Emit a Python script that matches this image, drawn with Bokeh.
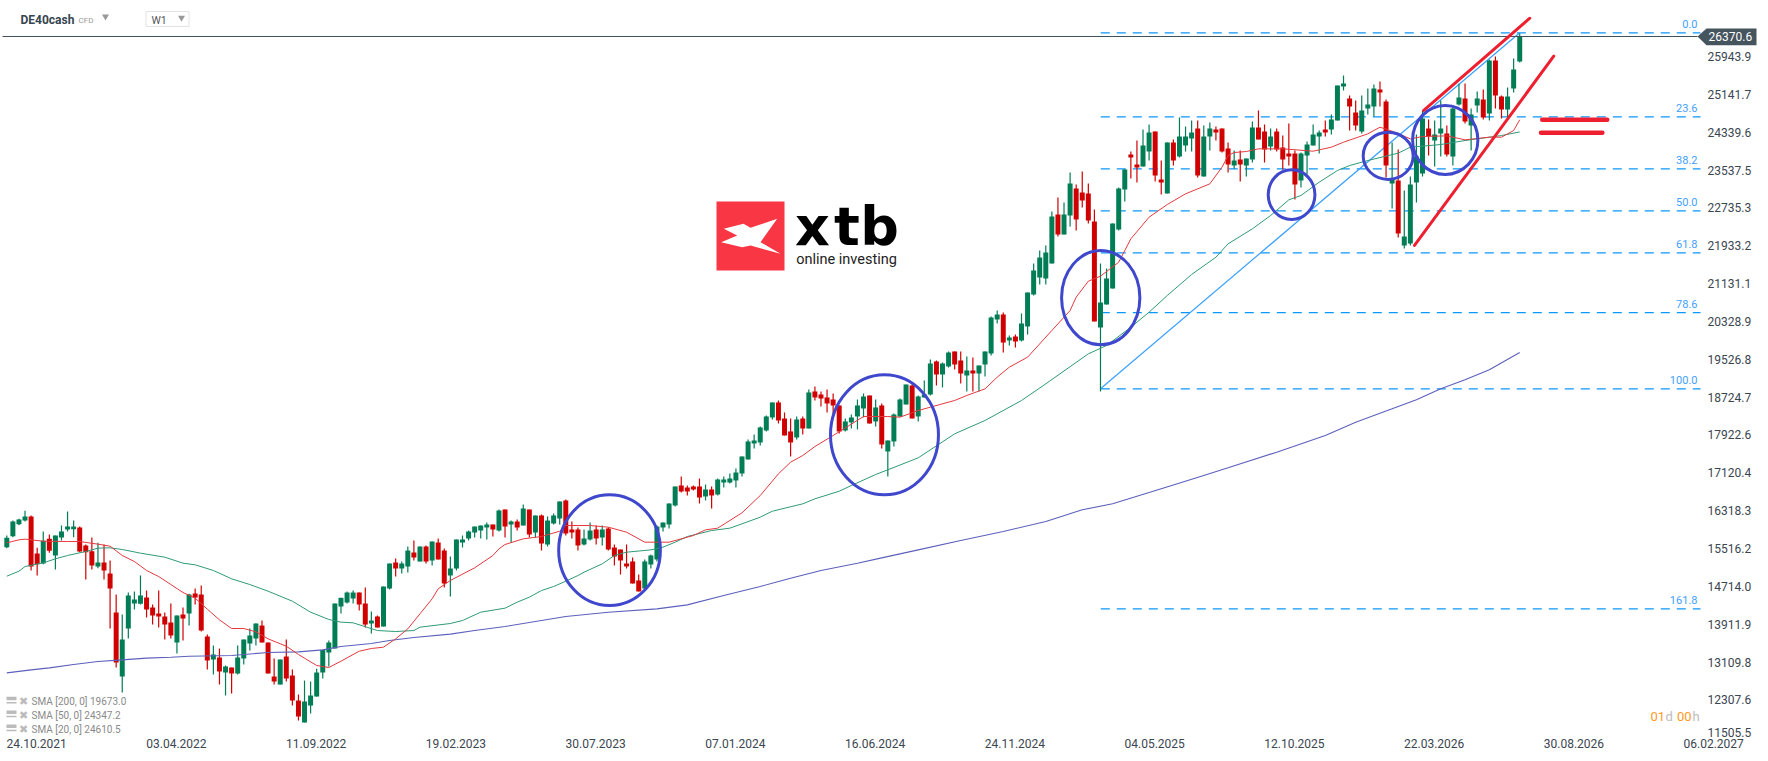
from bokeh.plotting import figure
from bokeh.embed import file_html
from bokeh.resources import INLINE
from bokeh.models import FixedTicker, Range1d
from bokeh.core.properties import value

symbol = "DE40cash"
opens = [15544,15777,16032,16110,16194,15410,15198,15721,15368,15749,
15919,15926,15961,15579,15459,15134,15219,14986,14159,12802,
13820,14350,14343,14477,14265,14138,14074,13947,13523,14117,
14138,14562,14541,13650,13163,13205,12887,12993,12866,13184,
13502,13608,13883,13523,12802,12632,13226,12823,12293,11827,
12187,12378,12887,13311,13396,14286,14371,14456,14583,14350,
13926,14074,13862,14668,15219,15092,15134,15431,15240,15558,
15261,15643,15474,14944,15092,15643,15728,15855,15897,15961,
16025,15897,16343,16025,16088,16003,16343,15855,16216,15601,
16046,16152,16534,15919,15919,15601,15707,15919,15749,15940,
15537,15495,15198,15241,14838,14668,15177,15283,15961,16025,
16428,16852,16809,16831,16831,16619,16767,16661,16915,16915,
16958,17106,17403,17742,17764,18018,18294,18612,18272,17997,
17870,18272,18060,18845,18781,18718,18675,18548,18018,18188,
18315,18484,18760,18209,18548,17573,17785,18315,18569,18972,
18315,18718,18781,19481,19205,19375,19693,19502,19184,19290,
19226,19417,19650,20371,20477,19926,20011,19926,20223,20901,
21261,21240,21558,22597,22173,22576,23148,23064,23042,22449,
20201,20689,21028,22279,23127,23869,23657,23615,23933,24357,
23339,23042,24124,23827,24060,24208,24420,23403,24251,24399,
24420,23996,23636,23763,23636,23763,24442,24357,24039,24357,
24018,23890,23890,23318,23848,24060,24251,24399,24399,24590,
25311,25056,24759,24357,24844,24887,25247,24993,23254,23318,
21940,21982,23275,23466,24420,24166,24314,24314,23827,24929,
25056,24484,24908,25035,24738,25862,25099,24823,25268,25840]
closes = [15742,16088,16131,16194,15134,15184,15679,15466,15792,15876,
15982,15982,15452,15438,15155,15219,15050,14668,13099,13587,
14519,14435,14519,14223,14095,14074,13904,13671,14095,14032,
14541,14477,13777,13141,13269,12908,13014,12866,13205,13587,
13671,13926,13523,12866,12696,13163,12760,12293,11954,12272,
12399,12887,13367,13523,14350,14470,14583,14583,14329,13904,
13989,13841,14710,15198,15092,15198,15473,15325,15558,15240,
15664,15283,14774,15092,15707,15707,15876,15982,16003,16025,
15919,16322,15982,16088,15961,16364,15813,16216,15622,16109,
16216,16513,15834,15855,15580,15728,15897,15728,15919,15495,
15346,15262,15135,14774,14605,15241,15368,15982,16067,16470,
16831,16725,16725,16767,16597,16767,16640,16979,16979,17000,
17127,17467,17785,17806,18082,18315,18612,18230,17912,17764,
18251,18060,18824,18718,18696,18590,18548,17997,18209,18294,
18548,18739,18166,18506,17721,17806,18357,18675,18993,18272,
18739,18781,19438,19205,19438,19671,19417,19226,19290,19226,
19396,19693,20413,20477,19883,19989,19905,20286,20943,21410,
21685,21791,22555,22173,22597,23254,22491,22894,22470,20329,
20731,21240,22406,23148,23551,23806,23594,24060,24336,23424,
23276,24124,23742,24251,24251,24336,23424,24251,24420,24336,
23933,23657,23742,23657,23784,24442,24187,23975,24251,23975,
23763,23827,23233,23890,24081,24293,24336,24336,24611,25332,
25374,24887,24484,24802,24929,25268,25184,23636,23339,22194,
22131,23233,23827,24632,24251,24293,24420,23869,24844,25078,
24569,24717,25056,24654,25862,25120,24823,25099,25671,26370.6]
highs = [15792,16110,16145,16315,16216,15530,15876,15813,15792,16004,
16300,16110,15982,15601,15749,15636,15601,15261,14541,14117,
14583,14604,14943,14625,14329,14625,14159,14350,14095,14265,
14555,14668,14731,13693,13459,13396,13035,12993,13459,13587,
13820,13926,13989,13523,13184,13163,13587,12950,12420,12717,
12696,12965,13367,13565,14350,14470,14604,14625,14583,14689,
14180,14095,14710,15198,15304,15240,15558,15686,15558,15579,
15664,15728,15516,15346,15707,15791,15897,15982,16003,16067,
16025,16343,16343,16109,16131,16449,16343,16216,16237,16195,
16258,16513,16555,16088,15961,15919,16067,16003,16003,15961,
15601,15495,15601,15325,14965,15283,15389,16003,16067,16470,
16831,17042,16852,16852,17000,16873,16831,17000,17042,17106,
17212,17467,17827,17933,18103,18336,18612,18654,18400,18272,
18315,18315,18887,18951,18845,18887,18802,18548,18272,18357,
18675,18802,18760,18675,18590,17806,18378,18696,18993,18993,
18760,19078,19523,19502,19459,19693,19693,19693,19587,19565,
19396,19693,20435,20562,20519,20032,20053,20498,20943,21558,
21834,21940,22661,22958,22852,23488,23233,23509,23254,22703,
21558,21452,22406,23170,23551,23933,24166,24399,24505,24357,
23742,24124,24187,24654,24463,24590,24590,24484,24548,24463,
24420,24124,23954,23954,23784,24569,24802,24505,24420,24420,
24272,24526,23954,23912,24145,24505,24378,24590,24717,25332,
25544,25120,25014,25120,25268,25353,25417,25035,24123,23975,
23106,23403,24293,24802,24611,24590,25014,24484,24908,25367,
25374,24844,25205,25247,25883,25947,25120,25290,25904,26434]
lows = [15523,15756,16011,16088,15050,14943,15184,15424,15071,15686,
15876,15756,15438,14859,15071,15099,14859,13820,12993,12463,
13608,14223,14329,14053,13904,13841,13587,13608,13290,13565,
13883,14329,13756,12950,12845,12632,12399,12442,12845,13057,
13353,13459,13523,12866,12632,12632,12696,12187,11869,11827,
12018,12378,12760,13014,13396,14138,14350,14350,14201,13841,
13714,13841,13862,14647,14922,14986,15007,15261,15240,15198,
15155,15283,14689,14498,15050,15537,15686,15749,15728,15707,
15770,15876,15749,15643,15897,16003,15749,15749,15474,15559,
16025,16025,15791,15728,15474,15580,15686,15601,15580,15474,
15156,14965,15092,14774,14605,14647,15092,15241,15876,15940,
16407,16703,16640,16746,16470,16534,16364,16640,16809,16894,
16809,17042,17403,17636,17700,17997,18251,18166,17912,17467,
17827,17933,18060,18654,18527,18400,18336,17954,17997,18060,
18039,18294,18166,18103,17636,17043,17679,18307,18569,18272,
18209,18718,18760,18972,18929,19353,19311,19014,18845,18845,
18845,19163,19608,20286,19671,19820,19777,19905,20053,20880,
21113,21113,21558,22131,22173,22343,22258,22746,22406,20329,
18845,20689,21028,22258,22873,23360,23276,23615,23742,23297,
23021,23042,23636,23806,23933,23933,23382,23403,23954,24166,
23912,23488,23565,23297,23403,23700,24187,23700,23954,23933,
23551,23636,22915,23170,23445,24060,23890,24251,24293,24590,
25226,24378,24378,24314,24717,24675,24887,23381,22724,22109,
21876,21940,22851,23403,23848,23615,23827,23827,23636,24908,
24526,23954,24759,24611,24590,24844,24632,24632,25184,25819]

sma20_i = [0,2,3,6,10,12,15,17,19,21,23,25,27,29,31,33,35,37,39,41,43,46,48,51,53,55,58,60,62,64,66,68,70,71,73,
77,80,81,82,85,88,91,92,96,99,102,105,109,113,115,117,121,124,127,129,131,133,136,141,145,147,150,152,156,158,161,163,
165,168,172,175,176,178,180,183,185,188,191,194,196,198,200,201,202,204,206,210,215,218,220,224,226,228,231,233,237,240,244,246,248,249]
sma20_v = [15636,15700,15714,15671,15664,15664,15608,15565,15368,15240,15050,14922,14752,14583,14463,14230,14003,13820,13820,13749,13601,13445,13269,13035,12993,13127,13339,13396,13424,13601,13813,14131,14449,14661,14838,
15106,15367,15509,15601,15721,15770,15883,16003,16003,15968,15862,15650,15650,15791,15911,15947,16272,16639,17099,17346,17487,17678,17911,18314,18314,18300,18441,18512,18654,18760,18901,19148,
19360,19572,20137,20561,20844,21183,21289,21586,22081,22540,22809,23035,23141,23247,23600,23847,23911,23932,23989,23989,23939,24024,24130,24307,24448,24363,24201,24250,24264,24180,24236,24236,24377,24604]
sma50_i = [0,2,3,6,8,10,13,15,17,19,22,26,29,31,34,37,40,43,47,50,53,55,57,61,64,67,68,73,
75,78,82,84,86,88,90,92,94,95,98,100,102,106,108,110,112,116,119,121,124,126,131,133,137,139,143,145,150,156,161,167,
171,178,181,185,188,191,195,199,201,205,208,211,213,216,219,221,224,229,231,236,240,246,249]
sma50_v = [14929,15035,15134,15212,15297,15368,15452,15523,15530,15495,15417,15332,15205,15170,15050,14873,14752,14611,14399,14166,14011,13954,13940,13777,13756,13777,13848,13926,
13989,14166,14251,14378,14484,14625,14710,14823,14943,15014,15191,15367,15438,15487,15544,15650,15770,15897,15947,16039,16180,16307,16463,16569,16731,16851,17085,17184,17438,17947,18230,18653,
19007,19643,19819,20208,20526,20880,21325,21692,21975,22293,22575,22908,23000,23282,23529,23635,23741,23897,24024,24080,24165,24271,24347]
sma200_i = [0,4,7,11,15,19,23,27,30,37,43,48,52,55,60,63,67,73,77,82,92,99,107,112,118,124,129,134,140,144,150,157,164,171,177,182,190,197,201,209,217,222,228,232,236,240,244,249]
sma200_v = [12880,12943,12986,13057,13120,13155,13191,13212,13233,13247,13311,13325,13367,13438,13502,13565,13629,13700,13777,13862,14074,14166,14237,14321,14519,14710,14887,15049,15205,15318,15487,15685,15876,16088,16336,16463,16781,17063,17226,17558,17911,18194,18477,18668,18901,19092,19304,19673]

date_labels = ["24.10.2021","03.04.2022","11.09.2022","19.02.2023","30.07.2023","07.01.2024","16.06.2024",
               "24.11.2024","04.05.2025","12.10.2025","22.03.2026","30.08.2026","06.02.2027"]
price_labels = ["25943.9","25141.7","24339.6","23537.5","22735.3","21933.2","21131.1","20328.9","19526.8","18724.7",
                "17922.6","17120.4","16318.3","15516.2","14714.0","13911.9","13109.8","12307.6","11505.5"]
fib_names = ["0.0","23.6","38.2","50.0","61.8","78.6","100.0","161.8"]
fib_values = [26449,24668,23566,22675,21785,20517,18902,14238]
legend_rows = ["SMA [200, 0] 19673.0","SMA [50, 0] 24347.2","SMA [20, 0] 24610.5"]

def X(px):
    return (px - 6.3) / 6.076
def Y(py):
    return 27133.6 - 21.2 * py

GREEN, RED = "#007d55", "#d00000"
AXIS = "#3a4650"

p = figure(width=1760, height=753, output_backend="svg", toolbar_location=None,
           x_range=Range1d(X(0), X(1760)), y_range=Range1d(Y(753), Y(0)),
           y_axis_location="right", min_border=0, min_border_left=0, min_border_right=0,
           min_border_top=0, min_border_bottom=0, outline_line_color=None)
p.grid.visible = False

price_ticks = [float(s) for s in price_labels[:-1]] + [Y(731.7)]
p.yaxis.ticker = FixedTicker(ticks=price_ticks)
p.yaxis.major_label_overrides = dict(zip(price_ticks, price_labels))
p.yaxis.fixed_location = X(1704)
date_ticks = [4.92 + 23 * k for k in range(len(date_labels))]
p.xaxis.ticker = FixedTicker(ticks=date_ticks)
p.xaxis.major_label_overrides = dict(zip(date_ticks, date_labels))
p.xaxis.fixed_location = Y(735)
for ax in (p.xaxis[0], p.yaxis[0]):
    ax.axis_line_color = None
    ax.major_tick_line_color = None
    ax.minor_tick_line_color = None
    ax.major_tick_in = 0
    ax.major_tick_out = 0
    ax.major_label_standoff = 3
    ax.major_label_text_font = "Roboto"
    ax.major_label_text_font_size = "12px"
    ax.major_label_text_color = AXIS

def txt(px, py, s, size, color, align="left", style="normal"):
    p.text([X(px)], [Y(py)], text=[s], text_font=value("Roboto"), text_font_size=f"{size}px",
           text_color=color, text_align=align, text_baseline="middle", text_font_style=style)

# logo
p.quad(left=[X(716)], right=[X(784)], top=[Y(201)], bottom=[Y(270)], fill_color="#f93644", line_color=None)
mark_x = [723.3, 743, 750, 776.7, 760, 780, 750, 741.7, 720.7, 736.7]
mark_y = [228.3, 223.3, 227.3, 218.3, 241.7, 253.3, 245, 246.7, 241.7, 235]
p.patch([X(a) for a in mark_x], [Y(b) for b in mark_y], fill_color="white", line_color=None)
for ch, cx in zip("xtb", (812, 846.5, 879)):
    p.text([X(cx)], [Y(226)], text=[ch], text_font=value("DejaVu Sans"), text_font_size="54px",
           text_color="#000000", text_align="center", text_baseline="alphabetic", text_font_style="bold")
txt(846, 259, "online investing", 14.5, "#222222", align="center")

# fibonacci retracement
p.segment(x0=[X(1100.3)] * len(fib_values), x1=[X(1700)] * len(fib_values), y0=fib_values, y1=fib_values,
          line_color="#0a96ff", line_width=1.3, line_dash="9 7")
p.segment(x0=[180], x1=[249], y0=[fib_values[6]], y1=[fib_values[0]], line_color="#3aa0ff", line_width=1.2)
p.text([X(1697)] * len(fib_names), fib_values, text=fib_names, text_font=value("Roboto"), text_font_size="11px",
       text_color="#3fa0ff", text_align="right", text_baseline="middle", y_offset=-9)

# candles
idx = list(range(len(opens)))
colors = [GREEN if c >= o else RED for o, c in zip(opens, closes)]
p.segment(x0=idx, x1=idx, y0=lows, y1=highs, line_color=colors, line_width=1.2)
p.vbar(x=idx, width=0.82, bottom=[min(o, c) for o, c in zip(opens, closes)],
       top=[max(o, c) for o, c in zip(opens, closes)], fill_color=colors, line_color=None)

# moving averages
p.line(sma200_i, sma200_v, line_color="#5c60bc", line_width=1.1)
p.line(sma50_i, sma50_v, line_color="#2e9a78", line_width=1.0)
p.line(sma20_i, sma20_v, line_color="#e5393f", line_width=1.0)

# price line and tag
p.segment(x0=[X(2)], x1=[X(1697)], y0=[closes[-1]], y1=[closes[-1]], line_color="#3f505c", line_width=1)
p.patch([X(a) for a in (1697, 1706, 1756, 1756, 1706)], [Y(b) for b in (36, 28, 28, 44.7, 44.7)],
        fill_color="#46545e", line_color=None)
txt(1708, 36, f"{closes[-1]}", 12, "#ffffff")

# drawn circles
p.ellipse(x=[99.2, 144.45, 180.04, 211.45, 227.35, 236.74], y=[15480, 17926, 20833, 23017, 23841, 24176],
          width=[16.74, 17.77, 12.89, 7.69, 8.23, 10.75], height=[2347, 2544, 1999, 1054, 1003, 1463],
          fill_color=None, line_color="#3f47cc", line_width=3)

# drawn channel and levels
p.segment(x0=[233.2, 231.68], x1=[250.66, 254.6], y0=[24802, 21940], y1=[26758, 25953],
          line_color="#ee2030", line_width=3, line_cap="round")
p.segment(x0=[252.7, 252.5], x1=[263.4, 262.6], y0=[24604, 24329], y1=[24604, 24329],
          line_color="#ee2030", line_width=4.5, line_cap="round")

# header
txt(20, 19, symbol, 12, "#36454f", style="bold")
txt(78, 19.5, "CFD", 8, "#9a9a9a")
p.scatter([X(105)], [Y(16)], marker="inverted_triangle", size=7, fill_color="#999999", line_color=None)
p.quad(left=[X(145.5)], right=[X(188.5)], top=[Y(11)], bottom=[Y(26)], fill_color="white", line_color="#e3e3e3")
txt(151, 19.5, "W1", 10.5, "#555555")
p.scatter([X(181)], [Y(17.3)], marker="inverted_triangle", size=7, fill_color="#999999", line_color=None)

# indicator legend
for row, py in zip(legend_rows, (701.3, 715, 729)):
    p.quad(left=[X(6)], right=[X(16)], top=[Y(py - 5)], bottom=[Y(py - 1.5)], fill_color="#bbbbbb", line_color=None)
    p.quad(left=[X(6)], right=[X(16)], top=[Y(py + 0.2)], bottom=[Y(py + 1.8)], fill_color="#bbbbbb", line_color=None)
    txt(18.5, py - 0.5, "✖", 11, "#bbbbbb")
    txt(31, py, row, 10, "#8a8a8a")

# countdown
txt(1650, 716, "01", 13, "#ff9a1f")
txt(1665, 716, "d", 13, "#bdbdbd")
txt(1676.5, 716, "00", 13, "#ff9a1f")
txt(1692, 716, "h", 13, "#bdbdbd")

open("out.html", "w").write(file_html(p, INLINE))
